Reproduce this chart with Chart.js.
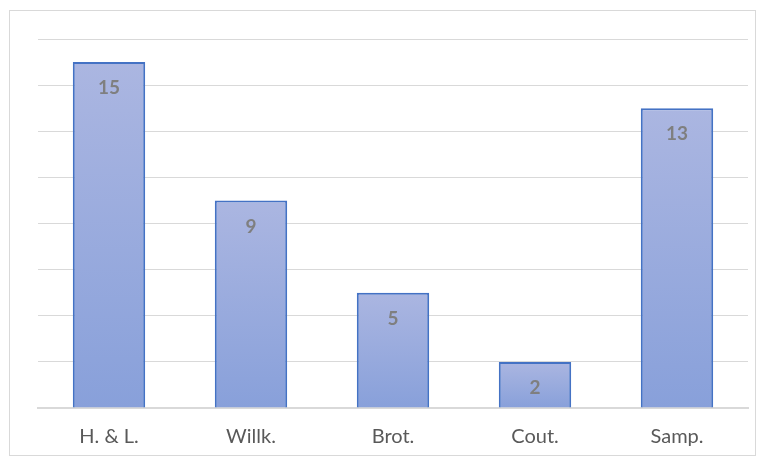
<!DOCTYPE html>
<html>
<head>
<meta charset="utf-8">
<script src="https://cdn.jsdelivr.net/npm/chart.js@4/dist/chart.umd.min.js"></script>
<style>
  html, body { margin: 0; padding: 0; background: #ffffff; }
  #wrap { width: 764px; height: 465px; position: relative; }
</style>
</head>
<body>
<div id="wrap"><canvas id="c" width="764" height="465"></canvas></div>
<script>
const categories = ['H. & L.', 'Willk.', 'Brot.', 'Cout.', 'Samp.'];
const counts = [15, 9, 5, 2, 13];
const yMin = 0;
const yMax = 16;
const yStep = 2;

// Per-bar vertical gradient: lighter at the top, deeper at the base
function barGradient(context) {
  const chart = context.chart;
  const area = chart.chartArea;
  if (!area || context.type !== 'data') return '#98abdd';
  const yScale = chart.scales.y;
  const top = yScale.getPixelForValue(context.raw);
  const bottom = yScale.getPixelForValue(0);
  const g = chart.ctx.createLinearGradient(0, top, 0, bottom);
  g.addColorStop(0, '#abb6e1');
  g.addColorStop(1, '#88a0da');
  return g;
}

// Value labels drawn inside each bar, just below its top edge
const valueLabels = {
  id: 'valueLabels',
  afterDatasetsDraw(chart) {
    const ctx = chart.ctx;
    const meta = chart.getDatasetMeta(0);
    ctx.save();
    ctx.font = 'bold 19px Lato, "Liberation Sans", sans-serif';
    ctx.fillStyle = '#7f7f7f';
    ctx.textAlign = 'center';
    ctx.textBaseline = 'middle';
    meta.data.forEach((bar, i) => {
      ctx.fillText(String(counts[i]), bar.x, bar.y + 26);
    });
    ctx.restore();
  }
};

// Thin frame around the whole chart
const frame = {
  id: 'frame',
  beforeDraw(chart) {
    const ctx = chart.ctx;
    ctx.save();
    ctx.strokeStyle = '#d9d9d9';
    ctx.lineWidth = 1;
    ctx.strokeRect(9.5, 10.5, 746, 445);
    ctx.restore();
  }
};

new Chart(document.getElementById('c'), {
  type: 'bar',
  data: {
    labels: categories,
    datasets: [{
      data: counts,
      backgroundColor: barGradient,
      borderColor: '#4472c4',
      borderWidth: 2,
      barPercentage: 0.51,
      categoryPercentage: 1.0
    }]
  },
  options: {
    responsive: false,
    animation: false,
    devicePixelRatio: 1,
    layout: { padding: { left: 38, right: 16, top: 39, bottom: 0 } },
    plugins: {
      legend: { display: false },
      tooltip: { enabled: false }
    },
    scales: {
      x: {
        grid: { display: false, drawTicks: false },
        border: { display: true, color: '#d9d9d9', width: 2 },
        ticks: {
          color: '#595959',
          padding: 17,
          font: { family: 'Lato, "Liberation Sans", sans-serif', size: 20 }
        },
        afterFit(scale) { scale.height = 57; }
      },
      y: {
        min: yMin,
        max: yMax,
        grid: { color: '#d9d9d9', lineWidth: 1, drawTicks: false },
        border: { display: false },
        ticks: { display: false, stepSize: yStep }
      }
    }
  },
  plugins: [frame, valueLabels]
});
</script>
</body>
</html>
